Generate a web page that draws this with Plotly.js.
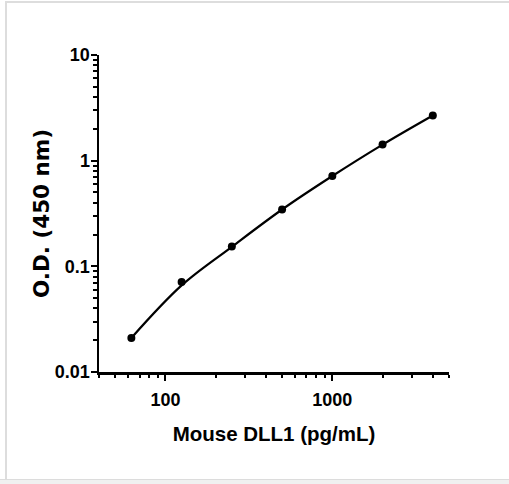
<!DOCTYPE html>
<html>
<head>
<meta charset="utf-8">
<script src="https://cdn.plot.ly/plotly-3.0.1.min.js"></script>
<style>
  html, body { margin: 0; padding: 0; background: #ffffff; }
  #wrap { position: relative; width: 509px; height: 484px; overflow: hidden; background: #ffffff; }
  #chart { position: absolute; left: 0; top: 0; width: 509px; height: 484px; }
  .frame-left { position: absolute; left: 5px; top: 1px; width: 2px; height: 478px; background: #dddddd; }
  .frame-top { position: absolute; left: 5px; top: 1px; width: 504px; height: 2px; background: #dddddd; }
  .frame-bottom { position: absolute; left: 0; top: 479px; width: 509px; height: 5px; background: #f0f0f0; border-top: 1px solid #dcdcdc; }
</style>
</head>
<body>
<div id="wrap">
  <div id="chart"></div>
  <div class="frame-left"></div>
  <div class="frame-top"></div>
  <div class="frame-bottom"></div>
</div>
<script>
// Data
const concentration = [62.5, 125, 250, 500, 1000, 2000, 4000];        // Mouse DLL1 (pg/mL)
const odValues      = [0.021, 0.071, 0.154, 0.345, 0.716, 1.42, 2.68]; // measured O.D. (450 nm)
const fitValues     = [0.021, 0.066, 0.153, 0.345, 0.716, 1.42, 2.68]; // fitted curve read at the same concentrations

const xTickVals = [100, 1000];
const xTickText = ['100', '1000'];
const yTickVals = [0.01, 0.1, 1, 10];
const yTickText = ['0.01', '0.1', '1', '10'];

const xTitle = 'Mouse DLL1 (pg/mL)';
const yTitle = 'O.D. (450 nm)';

const fitTrace = {
  x: concentration,
  y: fitValues,
  type: 'scatter',
  mode: 'lines',
  line: { color: '#000000', width: 2.2, shape: 'spline', smoothing: 1 },
  hoverinfo: 'skip',
  showlegend: false
};

const pointTrace = {
  x: concentration,
  y: odValues,
  type: 'scatter',
  mode: 'markers',
  marker: { color: '#000000', size: 8, symbol: 'circle' },
  hoverinfo: 'skip',
  showlegend: false
};

const tickFont = { family: 'Liberation Sans, Arial, sans-serif', size: 18, color: '#000000', weight: 'bold' };

const layout = {
  width: 509,
  height: 484,
  margin: { l: 99, r: 60, t: 54.5, b: 112, pad: 0 },
  paper_bgcolor: 'rgba(0,0,0,0)',
  plot_bgcolor: 'rgba(0,0,0,0)',
  showlegend: false,
  xaxis: {
    type: 'log',
    range: [Math.log10(40), Math.log10(5000)],
    tickmode: 'array',
    tickvals: xTickVals,
    ticktext: xTickText,
    ticks: 'outside',
    ticklen: 6,
    tickwidth: 2,
    tickcolor: '#000000',
    ticklabelstandoff: 4,
    showline: true,
    linecolor: '#000000',
    linewidth: 2.5,
    showgrid: false,
    zeroline: false,
    tickfont: tickFont,
    minor: { ticks: 'outside', ticklen: 3.5, tickwidth: 2, tickcolor: '#000000', dtick: 'D1', showgrid: false },
    title: { text: xTitle, font: { family: 'Liberation Sans, Arial, sans-serif', size: 20.5, color: '#000000', weight: 'bold' }, standoff: 18 },
    automargin: false,
    fixedrange: true
  },
  yaxis: {
    type: 'log',
    range: [-2, 1],
    tickmode: 'array',
    tickvals: yTickVals,
    ticktext: yTickText,
    ticks: 'outside',
    ticklen: 6,
    tickwidth: 2,
    tickcolor: '#000000',
    ticklabelstandoff: -3,
    showline: true,
    linecolor: '#000000',
    linewidth: 2.5,
    showgrid: false,
    zeroline: false,
    tickfont: tickFont,
    minor: { ticks: 'outside', ticklen: 3.5, tickwidth: 2, tickcolor: '#000000', dtick: 'D1', showgrid: false },
    title: { text: yTitle, font: { family: 'DejaVu Sans, Verdana, sans-serif', size: 21.5, color: '#000000', weight: 'bold' }, standoff: 0 },
    automargin: false,
    fixedrange: true
  }
};

Plotly.newPlot('chart', [fitTrace, pointTrace], layout, { displayModeBar: false, staticPlot: true });
</script>
</body>
</html>
